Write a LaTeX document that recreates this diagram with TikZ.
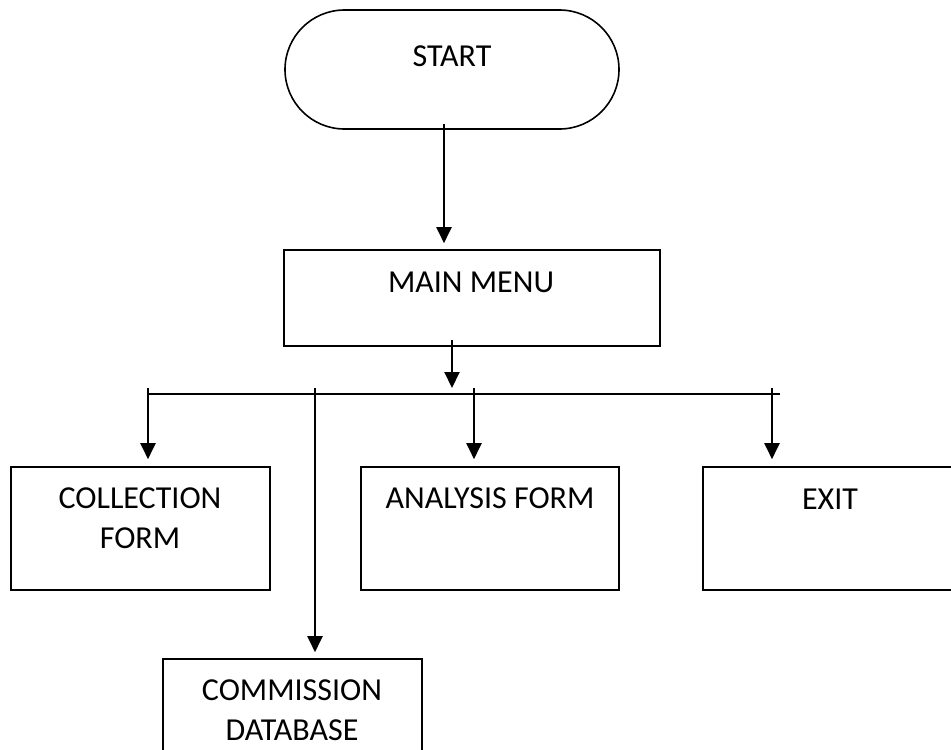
\documentclass[tikz,border=0pt]{standalone}
\usepackage{fontspec}
\setmainfont{Carlito}
\usetikzlibrary{arrows.meta,shapes.misc}

\tikzset{
  box/.style={draw=black, line width=1.6pt, rectangle, inner sep=0pt},
  term/.style={draw=black, line width=1.6pt, rounded rectangle, inner sep=0pt},
  lbl/.style={align=center, inner sep=0pt, font=\fontsize{32}{40}\selectfont},
  arr/.style={line width=2pt, -{Triangle[length=16pt,width=15pt]}, shorten >=6pt},
  wire/.style={line width=2pt}
}

\begin{document}
\begin{tikzpicture}[x=1pt,y=-1pt]
  \path[use as bounding box, clip] (0,0) rectangle (951,750);
  \fill[white] (0,0) rectangle (951,750);

  % terminal and menu
  \node[term, minimum width=334pt, minimum height=119pt] (start) at (452,69.5) {};
  \node[lbl] (starttxt) at (452,56) {START};
  \node[box, minimum width=376pt, minimum height=96pt] (menu) at (472,298) {};
  \node[lbl] (menutxt) at (471,282) {MAIN MENU};

  % menu options
  \node[box, minimum width=259pt, minimum height=123pt] (coll) at (140.5,528.5) {};
  \node[lbl] (colltxt) at (140,518) {COLLECTION\\FORM};
  \node[box, minimum width=258pt, minimum height=123pt] (anal) at (490,528.5) {};
  \node[lbl] (analtxt) at (490,498) {ANALYSIS FORM};
  \node[box, minimum width=254pt, minimum height=123pt] (exit) at (830,528.5) {};
  \node[lbl] (exittxt) at (830,499) {EXIT};
  \node[box, minimum width=259pt, minimum height=123pt] (comm) at (292.5,720.5) {};
  \node[lbl] (commtxt) at (292,710) {COMMISSION\\DATABASE};

  % distribution bus
  \coordinate (busL) at (148,394);
  \coordinate (busR) at (780,394);
  \coordinate (m0) at (452,340);
  \coordinate (s0) at (444,124);
  \coordinate (d1) at (148,388);
  \coordinate (d2) at (315,388);
  \coordinate (d3) at (474,388);
  \coordinate (d4) at (772,388);

  \draw[wire] (busL) -- (busR);
  \draw[arr] (s0) -- (s0 |- menu.north);
  \draw[arr, shorten >=6pt] (m0) -- (m0 |- busL);
  \draw[arr, shorten >=7pt] (d1) -- (d1 |- coll.north);
  \draw[arr, shorten >=6pt] (d2) -- (d2 |- comm.north);
  \draw[arr, shorten >=7pt] (d3) -- (d3 |- anal.north);
  \draw[arr, shorten >=7pt] (d4) -- (d4 |- exit.north);
\end{tikzpicture}
\end{document}
